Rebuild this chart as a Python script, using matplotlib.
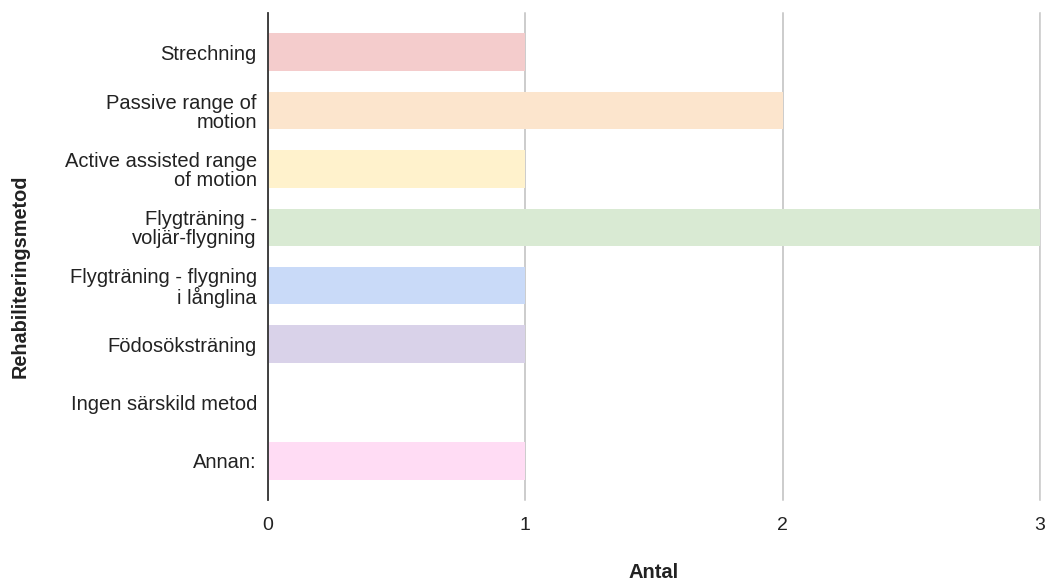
import matplotlib
matplotlib.use("Agg")
import matplotlib.pyplot as plt

## data
categories = ["Strechning", "Passive range of\nmotion", "Active assisted range\nof motion",
              "Flygträning -\nvoljär-flygning", "Flygträning - flygning\ni långlina",
              "Födosöksträning", "Ingen särskild metod", "Annan:"]
counts = [1, 2, 1, 3, 1, 1, 0, 1]
bar_colors = ["#f4cccc", "#fce5cd", "#fff2cc", "#d9ead3", "#c9daf8", "#d9d2e9", "#ead1dc", "#ffdcf4"]
xticks = [0, 1, 2, 3]

plt.rcParams['font.family'] = ['Liberation Sans', 'DejaVu Sans']

fig = plt.figure(figsize=(10.48, 5.81), dpi=100)
ax = fig.add_axes([268/1048, 1-500/581, (1040-268)/1048, (500-13)/581])

ypos = list(range(len(categories)))
ax.barh(ypos, counts, height=0.64, color=bar_colors, zorder=2)

ax.set_xlim(0, 3)
ax.set_ylim(len(categories) - 1 + 0.67, -0.67)
ax.set_xticks(xticks)
ax.set_xticklabels([str(t) for t in xticks], fontsize=14, color="#222222")
ax.set_yticks(ypos)
ax.set_yticklabels(categories, fontsize=14.5, color="#222222", linespacing=1.0)
ax.tick_params(length=0)
ax.tick_params(axis='x', pad=12)
ax.tick_params(axis='y', pad=8)

ax.grid(axis='x', color="#cccccc", lw=1.2, zorder=0)
for x in xticks[1:]:
    ax.axvline(x, color="#cccccc", lw=1.2, zorder=0, clip_on=False)
for s in ["top", "right", "bottom"]:
    ax.spines[s].set_visible(False)
ax.spines["left"].set_color("#333333")
ax.spines["left"].set_linewidth(1.3)
ax.spines["left"].set_zorder(3)

fig.text(654/1048, 1-572/581, "Antal", fontsize=14.5, fontweight="bold",
         color="#222222", ha="center", va="center")
fig.text(20/1048, 1-276/581, "Rehabiliteringsmetod", rotation=90, fontsize=14.3,
         fontweight="bold", color="#222222", ha="center", va="center")

fig.savefig("out.png", dpi=100)
